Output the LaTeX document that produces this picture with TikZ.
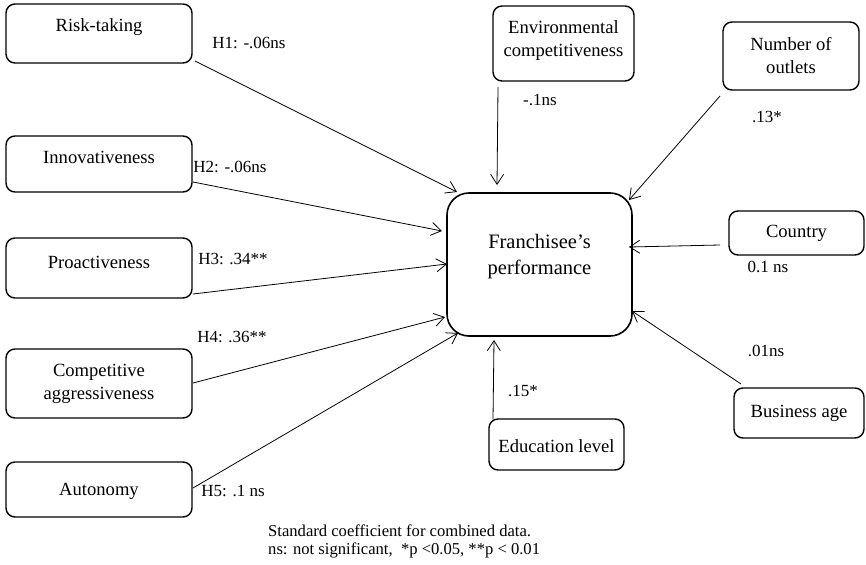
\documentclass[tikz,border=0pt]{standalone}
\usepackage{fontspec}
\setmainfont{Liberation Serif}
\usetikzlibrary{arrows.meta}
\begin{document}
\begin{tikzpicture}[x=1pt,y=-1pt,
  box/.style={draw, line width=1.4pt, rounded corners=9pt, inner sep=0pt},
  bigbox/.style={draw, line width=1.6pt, rounded corners=22pt, inner sep=0pt},
  txt/.style={inner sep=0pt, align=center, font=\fontsize{18.6}{23}\selectfont},
  bigtxt/.style={inner sep=0pt, align=center, font=\fontsize{20.5}{26}\selectfont},
  lab/.style={inner sep=0pt, font=\fontsize{17}{20}\selectfont},
  arr/.style={line width=0.8pt, -{Straight Barb[length=10pt,width=13pt,line width=0.8pt]}}
]
\useasboundingbox (0,0) rectangle (866,564);

% boxes
\node[box, minimum width=186pt, minimum height=59pt] (risk) at (99,33.5) {};
\node[box, minimum width=186pt, minimum height=56pt] (innov) at (99,164) {};
\node[box, minimum width=186pt, minimum height=60pt] (proact) at (99,268) {};
\node[box, minimum width=186pt, minimum height=69pt] (comp) at (99,383.5) {};
\node[box, minimum width=186pt, minimum height=55pt] (auto) at (99,489.5) {};
\node[bigbox, minimum width=185pt, minimum height=143pt] (perf) at (539.5,264.5) {};
\node[box, minimum width=141pt, minimum height=75pt] (env) at (563.5,43.5) {};
\node[box, minimum width=136pt, minimum height=68pt] (outlets) at (791,56) {};
\node[box, minimum width=135pt, minimum height=44pt] (country) at (796.5,233) {};
\node[box, minimum width=130pt, minimum height=50pt] (busage) at (799,413) {};
\node[box, minimum width=135pt, minimum height=51pt] (edu) at (556.5,444.5) {};

% box texts
\node[txt] (risktxt) at ([yshift=6.5pt]risk.center) {Risk-taking};
\node[txt] (innovtxt) at ([yshift=7pt]innov.center) {Innovativeness};
\node[txt] (proacttxt) at ([yshift=6pt]proact.center) {Proactiveness};
\node[txt] (comptxt) at (comp.center) {Competitive\\aggressiveness};
\node[txt] (autotxt) at ([yshift=-2pt]auto.center) {Autonomy};
\node[bigtxt] (perftxt) at ([yshift=7.5pt]perf.center) {Franchisee’s\\performance};
\node[txt] (envtxt) at ([yshift=3pt]env.center) {Environmental\\competitiveness};
\node[txt] (outletstxt) at (outlets.center) {Number of\\outlets};
\node[txt] (countrytxt) at (country.center) {Country};
\node[txt] (busagetxt) at (busage.center) {Business age};
\node[txt] (edutxt) at ([yshift=-2pt]edu.center) {Education level};

% connectors
\draw[arr] ([shift={(96,27.5)}]risk.center) -- ([shift={(-82.5,-72.5)}]perf.center);
\draw[arr] ([shift={(94,18)}]innov.center) -- ([shift={(-97.5,-33.5)}]perf.center);
\draw[arr] ([shift={(94,26)}]proact.center) -- ([shift={(-92.5,-0.5)}]perf.center);
\draw[arr] ([shift={(94,-0.5)}]comp.center) -- ([shift={(-94.5,52.5)}]perf.center);
\draw[arr] ([shift={(94,-1.5)}]auto.center) -- ([shift={(-81.5,68.5)}]perf.center);
\draw[arr] ([shift={(-65.5,43.5)}]env.center) -- ([shift={(-42.5,-79.5)}]perf.center);
\draw[arr] ([shift={(-71,40)}]outlets.center) -- ([shift={(89.5,-64.5)}]perf.center);
\draw[arr] ([shift={(-76.5,12)}]country.center) -- ([shift={(89.5,-17.5)}]perf.center);
\draw[arr] ([shift={(-58,-29)}]busage.center) -- ([shift={(92.5,46.5)}]perf.center);
\draw[arr] ([shift={(-63.5,-25.5)}]edu.center) -- ([shift={(-45.5,75.5)}]perf.center);

% labels
\node[lab] (h1) at (249,43) {H1: -.06ns};
\node[lab] (h2) at (230,167) {H2: -.06ns};
\node[lab] (h3) at (233,259) {H3: .34**};
\node[lab] (h4) at (232,337) {H4: .36**};
\node[lab] (h5) at (233,491) {H5: .1 ns};
\node[lab] (lenv) at (540,100) {-.1ns};
\node[lab] (lout) at (767,117) {.13*};
\node[lab] (lcountry) at (768,267) {0.1 ns};
\node[lab] (lbus) at (766,351) {.01ns};
\node[lab] (ledu) at (523,391) {.15*};

% footnote
\node[inner sep=0pt, anchor=west, align=left, font=\fontsize{16.6}{18}\selectfont] (note) at (268,541)
  {Standard coefficient for combined data.\\ns: not significant, \ *p <0.05, **p < 0.01};
\end{tikzpicture}
\end{document}
